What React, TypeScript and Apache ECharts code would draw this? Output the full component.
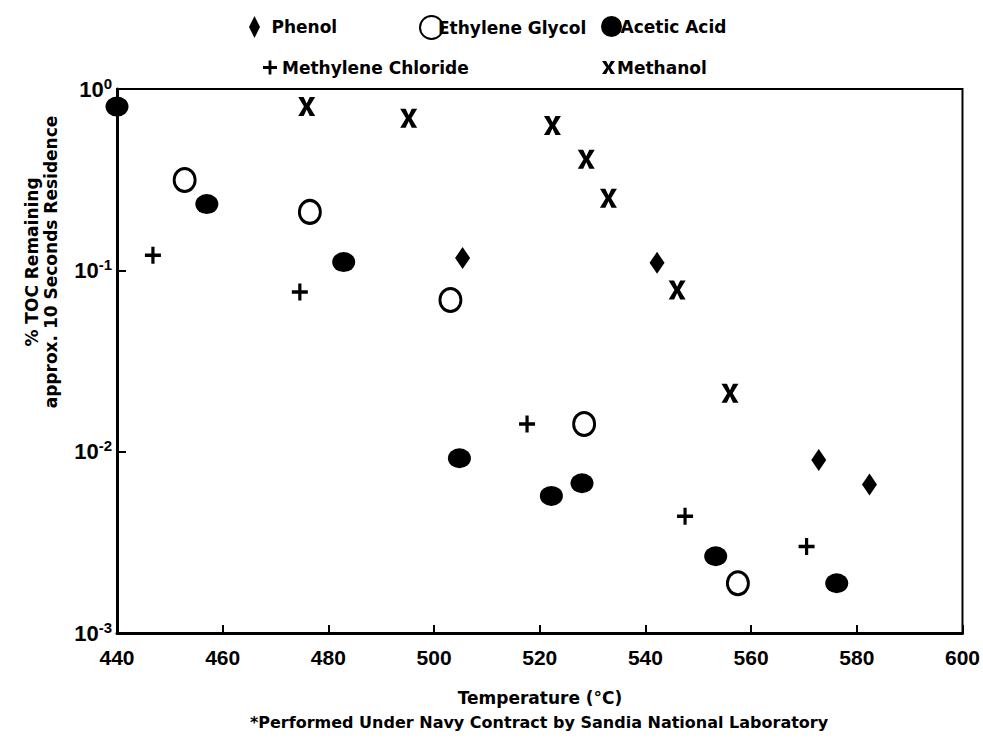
import React, { useEffect, useRef } from "react";
import * as echarts from "echarts";

const phenolT = [505.4, 542.2, 572.8, 582.4];
const phenolV = [0.117, 0.11, 0.009, 0.0066];

const glycolT = [452.8, 476.5, 503.1, 528.4, 557.5];
const glycolV = [0.315, 0.21, 0.0686, 0.0142, 0.00188];

const aceticT = [440, 457.0, 482.9, 504.8, 522.2, 528.0, 553.3, 576.2];
const aceticV = [0.8, 0.232, 0.111, 0.0092, 0.0057, 0.0067, 0.00265, 0.00188];

const chlorideT = [446.8, 474.6, 517.6, 547.5, 570.5];
const chlorideV = [0.121, 0.076, 0.0142, 0.0044, 0.003];

const methanolT = [475.9, 495.2, 522.4, 528.8, 533.0, 546.0, 556.0];
const methanolV = [0.8, 0.69, 0.63, 0.41, 0.25, 0.078, 0.021];

const xTicks = { min: 440, max: 600, interval: 20 };

const ELLIPSE = "path://M0,5a5,5 0 1,0 10,0a5,5 0 1,0 -10,0";
const PLUS = "path://M4,0H6V4H10V6H6V10H4V6H0V4H4Z";
const XMARK = "path://M0,0L3.2,0L5,3.4L6.8,0L10,0L6.6,5L10,10L6.8,10L5,6.6L3.2,10L0,10L3.4,5Z";
const DIAMOND = "path://M5,0L10,10L5,20L0,10Z";

const FONT = "DejaVu Sans";

function pairs(t: number[], v: number[]) {
  return t.map((x, i) => [x, v[i]]);
}

export default function App() {
  const ref = useRef<HTMLDivElement>(null);
  useEffect(() => {
    if (!ref.current) return;
    const chart = echarts.init(ref.current, null, { renderer: "svg" });
    const legendText = { fontFamily: FONT, fontWeight: "bold" as const, fontSize: 17, color: "#000" };
    const mkLegend = (name: string, left: number, top: number, w: number, h: number, pad = 0) => ({
      data: [name],
      left,
      top,
      itemWidth: w,
      itemHeight: h,
      textStyle: { ...legendText, padding: [0, 0, 0, pad] },
      selectedMode: false,
    });
    chart.setOption({
      animation: false,
      backgroundColor: "#fff",
      grid: { left: 117, right: 19, top: 89, bottom: 110, show: true, borderColor: "#000", borderWidth: 2 },
      legend: [
        mkLegend("Phenol", 244, 11, 14, 22, 5),
        mkLegend("Ethylene Glycol", 414, 10, 23, 23, -10),
        mkLegend("Acetic Acid", 596, 11, 24, 21, -8),
        mkLegend("Methylene Chloride", 258, 54, 14, 15, 0),
        mkLegend("Methanol", 597, 54, 13, 15, -3),
      ],
      xAxis: {
        type: "value",
        min: xTicks.min,
        max: xTicks.max,
        interval: xTicks.interval,
        splitLine: { show: false },
        axisLine: { lineStyle: { color: "#000", width: 3 } },
        axisTick: { inside: true, length: 8, lineStyle: { color: "#000", width: 2 } },
        axisLabel: { color: "#000", fontFamily: "Liberation Sans", fontWeight: "bold", fontSize: 21, margin: 14 },
      },
      yAxis: {
        type: "log",
        logBase: 10,
        min: 0.001,
        max: 1,
        splitLine: { show: false },
        axisLine: { lineStyle: { color: "#000", width: 3 } },
        axisTick: { inside: true, length: 9, lineStyle: { color: "#000", width: 2 } },
        axisLabel: {
          margin: 5,
          formatter: (v: number) => {
            const e = Math.round(Math.log10(v));
            return `{b|10}{s|${e === 0 ? "0" : e}}`;
          },
          rich: {
            b: { fontFamily: "Liberation Sans", fontWeight: "bold", fontSize: 22, color: "#000", lineHeight: 26 },
            s: { fontFamily: "Liberation Sans", fontWeight: "bold", fontSize: 15, color: "#000", padding: [0, 0, 12, 0] },
          },
        },
      },
      series: [
        {
          name: "Phenol",
          type: "scatter",
          symbol: DIAMOND,
          symbolSize: [15, 22],
          itemStyle: { color: "#000", opacity: 1 },
          data: pairs(phenolT, phenolV),
        },
        {
          name: "Ethylene Glycol",
          type: "scatter",
          symbol: ELLIPSE,
          symbolSize: [21, 23],
          itemStyle: { color: "#fff", borderColor: "#000", borderWidth: 3, opacity: 1 },
          data: pairs(glycolT, glycolV),
        },
        {
          name: "Acetic Acid",
          type: "scatter",
          symbol: ELLIPSE,
          symbolSize: [23, 20],
          itemStyle: { color: "#000", opacity: 1 },
          data: pairs(aceticT, aceticV),
        },
        {
          name: "Methylene Chloride",
          type: "scatter",
          symbol: PLUS,
          symbolSize: [16, 17],
          itemStyle: { color: "#000", opacity: 1 },
          data: pairs(chlorideT, chlorideV),
        },
        {
          name: "Methanol",
          type: "scatter",
          symbol: XMARK,
          symbolSize: [17, 19],
          itemStyle: { color: "#000", opacity: 1 },
          data: pairs(methanolT, methanolV),
        },
      ],
      graphic: [
        {
          type: "text",
          x: 32,
          y: 262,
          rotation: Math.PI / 2,
          style: { text: "% TOC Remaining", fontFamily: FONT, fontWeight: "bold", fontSize: 17, fill: "#000", align: "center", verticalAlign: "middle" },
        },
        {
          type: "text",
          x: 51,
          y: 262,
          rotation: Math.PI / 2,
          style: { text: "approx. 10 Seconds Residence", fontFamily: FONT, fontWeight: "bold", fontSize: 17, fill: "#000", align: "center", verticalAlign: "middle" },
        },
        {
          type: "text",
          x: 540,
          y: 698,
          style: { text: "Temperature (°C)", fontFamily: FONT, fontWeight: "bold", fontSize: 17, fill: "#000", align: "center", verticalAlign: "middle" },
        },
        {
          type: "text",
          x: 539,
          y: 722,
          style: { text: "*Performed Under Navy Contract by Sandia National Laboratory", fontFamily: FONT, fontWeight: "bold", fontSize: 16, fill: "#000", align: "center", verticalAlign: "middle" },
        },
      ],
    });
    return () => chart.dispose();
  }, []);
  return <div ref={ref} style={{ width: 983, height: 743, position: "absolute", left: 0, top: 0 }} />;
}
